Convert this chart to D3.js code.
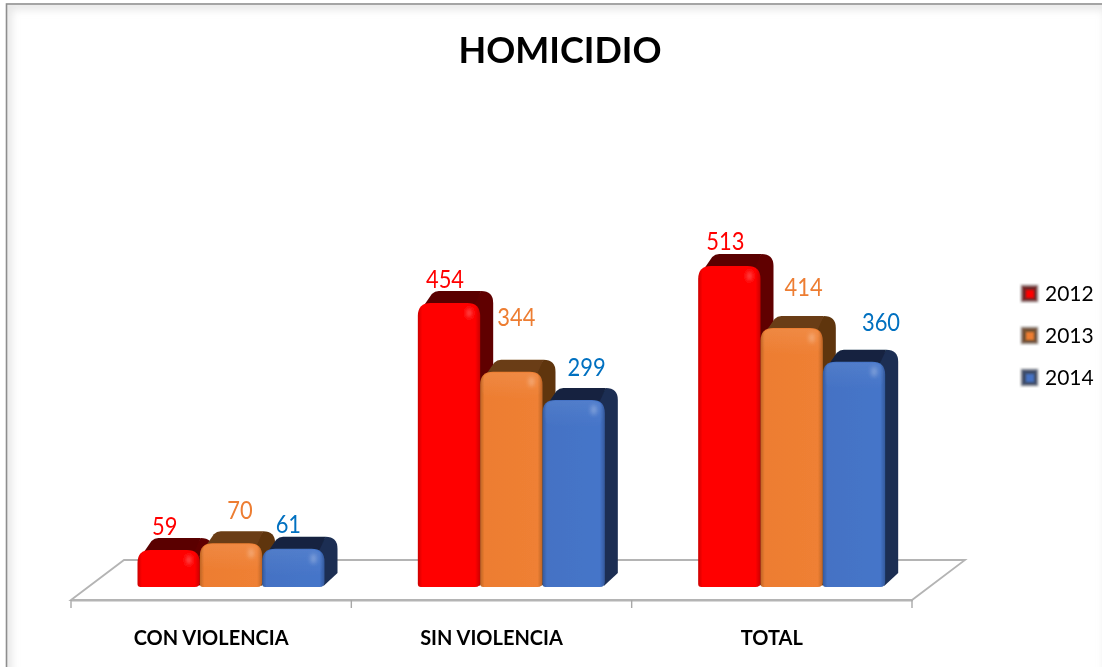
<!DOCTYPE html>
<html>
<head>
<meta charset="utf-8">
<script src="https://cdn.jsdelivr.net/npm/d3@7"></script>
<style>
  html, body { margin: 0; padding: 0; background: #fff; }
  svg { display: block; }
  text { font-family: Lato, "Open Sans", sans-serif; }
</style>
</head>
<body>
<div class="container"></div>
<script>
const categories = ['CON VIOLENCIA', 'SIN VIOLENCIA', 'TOTAL'];
const years = ['2012', '2013', '2014'];
const values2012 = [59, 454, 513];
const values2013 = [70, 344, 414];
const values2014 = [61, 299, 360];
const series = [values2012, values2013, values2014];

const colors = ['#ff0000', '#ed7d31', '#4472c4'];
const edgeColors = ['#cc0000', '#bd6526', '#34599c'];
const lightColors = ['#ff0000', '#ef8034', '#4575c9'];
const topColors = ['#5a0000', '#6b3d16', '#14233f'];
const sideColors = ['#600000', '#5f3510', '#1b2d52'];
const labelColors = ['#ff0000', '#ed7d31', '#0070c0'];
const bevelOpacity = [0, 0.6, 0.5];

// hand placed label nudges, the original chart had them dragged around
const labelDx = [[-4, 9, -5], [-4, 5, 13], [-4, 12, 27]];
const labelDy = [[-15, -24, -16], [-15, -46, -24], [-16, -32, -31]];

const width = 1102;
const height = 667;
const baseY = 587;
const depthX = 13;
const depthY = 12;
const digitWidth = 12.7;

const svg = d3
  .select('.container')
  .append('svg')
  .attr('width', width)
  .attr('height', height);

const defs = svg.append('defs');
defs.append('filter').attr('id', 'soft').append('feGaussianBlur').attr('stdDeviation', 0.5);
defs.append('filter').attr('id', 'blur3').append('feGaussianBlur').attr('stdDeviation', 4);
defs.append('filter').attr('id', 'blur2')
  .attr('x', '-100%').attr('y', '-100%').attr('width', '300%').attr('height', '300%')
  .append('feGaussianBlur').attr('stdDeviation', 2);
defs.append('filter').attr('id', 'swatchBlur').append('feGaussianBlur').attr('stdDeviation', 0.9);
defs.append('clipPath').attr('id', 'frameClip')
  .append('rect').attr('x', 7).attr('y', 5).attr('width', width).attr('height', height);

years.forEach((year, i) => {
  const g = defs.append('linearGradient').attr('id', 'front' + i);
  g.append('stop').attr('offset', '0%').attr('stop-color', edgeColors[i]);
  g.append('stop').attr('offset', '7%').attr('stop-color', colors[i]);
  g.append('stop').attr('offset', '92%').attr('stop-color', lightColors[i]);
  g.append('stop').attr('offset', '100%').attr('stop-color', edgeColors[i]);
});
const bevel = defs.append('linearGradient').attr('id', 'bevel').attr('x2', 0).attr('y2', 1);
bevel.append('stop').attr('offset', '0%').attr('stop-color', '#fff').attr('stop-opacity', 0.14);
bevel.append('stop').attr('offset', '100%').attr('stop-color', '#fff').attr('stop-opacity', 0);

// frame
const frame = svg.append('g');
frame.append('rect')
  .attr('x', 6).attr('y', 4).attr('width', width + 20).attr('height', height + 20)
  .attr('fill', '#fff');
frame.append('rect')
  .attr('x', 7).attr('y', 5).attr('width', width).attr('height', height + 20)
  .attr('fill', 'none').attr('stroke', '#e2e2e2').attr('stroke-width', 8)
  .attr('filter', 'url(#blur3)').attr('clip-path', 'url(#frameClip)');
frame.append('rect')
  .attr('x', 6.5).attr('y', 4).attr('width', width + 20).attr('height', height + 20)
  .attr('fill', 'none').attr('stroke', '#8e8e8e').attr('stroke-width', 1.6);

const xScale = d3
  .scaleBand()
  .domain(categories)
  .range([71, 912])
  .paddingInner(0)
  .paddingOuter(0);

const x1Scale = d3
  .scaleBand()
  .domain(years)
  .range([66.5, 253.5]);

const yScale = d3.scaleLinear().domain([0, 513]).range([baseY, 266]);

const chart = svg.append('g').attr('filter', 'url(#soft)');

// floor
const floorLeft = xScale.range()[0];
const floorRight = xScale.range()[1];
const floorY = 600;
const floorDx = 53;
const floorDy = 40;
chart.append('path')
  .attr('d', `M${floorLeft},${floorY}L${floorLeft + floorDx},${floorY - floorDy}L${floorRight + floorDx},${floorY - floorDy}L${floorRight},${floorY}Z`)
  .attr('fill', '#fff')
  .attr('stroke', '#b4b4b4')
  .attr('stroke-width', 1.8);

let xAxis = d3.axisBottom(xScale).tickSize(0).tickPadding(0);
const axisG = chart.append('g')
  .attr('id', 'x-axis')
  .attr('transform', 'translate(0,' + floorY + ')')
  .call(xAxis);
axisG.select('.domain').attr('stroke', '#b4b4b4').attr('stroke-width', 1.8);
axisG.selectAll('text')
  .attr('y', 45)
  .attr('dy', 0)
  .attr('fill', '#000')
  .style('font-size', '20px')
  .style('font-weight', 700)
  .style('font-family', 'Lato, sans-serif');

const edges = categories.map((c) => xScale(c)).concat([floorRight]);
chart.append('g')
  .selectAll('line')
  .data(edges)
  .enter()
  .append('line')
  .attr('x1', (d) => d)
  .attr('x2', (d) => d)
  .attr('y1', floorY)
  .attr('y2', floorY + 8)
  .attr('stroke', '#a8a8a8')
  .attr('stroke-width', 1.4);

// bars
function frontPath(x0, x1, top, bottom) {
  const r = Math.min(13, (bottom - top) / 2);
  const p = d3.path();
  p.moveTo(x0, bottom - 3);
  p.lineTo(x0, top + r);
  p.quadraticCurveTo(x0, top, x0 + r, top);
  p.lineTo(x1 - r, top);
  p.quadraticCurveTo(x1, top, x1, top + r);
  p.lineTo(x1, bottom - 5);
  p.quadraticCurveTo(x1, bottom, x1 - 5, bottom);
  p.lineTo(x0 + 3, bottom);
  p.quadraticCurveTo(x0, bottom, x0, bottom - 3);
  p.closePath();
  return p.toString();
}

function sidePath(x1, top, bottom) {
  const p = d3.path();
  p.moveTo(x1 - 10, top + 3);
  p.lineTo(x1 + depthX - 12, top - depthY);
  p.quadraticCurveTo(x1 + depthX, top - depthY, x1 + depthX, top - depthY + 12);
  p.lineTo(x1 + depthX, bottom - depthY - 2);
  p.lineTo(x1 - 1, bottom - 1);
  p.closePath();
  return p.toString();
}

function topPath(x0, x1, top) {
  const p = d3.path();
  p.moveTo(x0 + 3, top + 7);
  p.lineTo(x0 + 14, top - depthY + 3);
  p.quadraticCurveTo(x0 + 17, top - depthY, x0 + 21, top - depthY);
  p.lineTo(x1 + depthX - 12, top - depthY);
  p.lineTo(x1 - 6, top + 3);
  p.closePath();
  return p.toString();
}

const groups = chart.selectAll('.bar-group')
  .data(categories)
  .enter()
  .append('g')
  .attr('class', 'bar-group')
  .attr('transform', (d) => 'translate(' + xScale(d) + ',0)');

groups.each(function (cat, c) {
  const group = d3.select(this);
  series.forEach((vals, s) => {
    const x0 = x1Scale(years[s]);
    const x1 = x0 + x1Scale.bandwidth();
    const top = yScale(vals[c]);
    group.append('path').attr('d', sidePath(x1, top, baseY)).attr('fill', sideColors[s]);
    group.append('path').attr('d', topPath(x0, x1, top)).attr('fill', topColors[s]);
    group.append('path').attr('d', frontPath(x0, x1, top, baseY)).attr('fill', 'url(#front' + s + ')');
    // lighter band along the top of the front face
    group.append('rect')
      .attr('x', x0 + 2)
      .attr('y', top + 1)
      .attr('width', x1 - x0 - 4)
      .attr('height', Math.min(26, baseY - top - 3))
      .attr('rx', 9)
      .attr('fill', 'url(#bevel)')
      .attr('opacity', bevelOpacity[s]);
    // little shine in the upper right corner of each bar
    group.append('ellipse')
      .attr('cx', x1 - 11)
      .attr('cy', top + 10)
      .attr('rx', 3)
      .attr('ry', 5)
      .attr('fill', '#fff')
      .attr('opacity', 0.28)
      .attr('filter', 'url(#blur2)');
  });
});

// data labels
const labels = svg.append('g').attr('filter', 'url(#soft)');
categories.forEach((cat, c) => {
  series.forEach((vals, s) => {
    const label = String(vals[c]);
    labels.append('text')
      .attr('x', xScale(cat) + x1Scale(years[s]) + x1Scale.bandwidth() / 2 + labelDx[c][s])
      .attr('y', yScale(vals[c]) + labelDy[c][s])
      .attr('text-anchor', 'middle')
      .attr('fill', labelColors[s])
      .attr('textLength', label.length * digitWidth)
      .attr('lengthAdjust', 'spacingAndGlyphs')
      .style('font-size', '25px')
      .text(label);
  });
});

// title
svg.append('text')
  .attr('x', 560)
  .attr('y', 63)
  .attr('text-anchor', 'middle')
  .attr('fill', '#000')
  .attr('filter', 'url(#soft)')
  .style('font-size', '36px')
  .style('font-weight', 700)
  .text('HOMICIDIO');

// legend
const legendY = d3.scalePoint().domain(years).range([285, 369]);
const legend = svg.append('g');
years.forEach((year, i) => {
  const y = legendY(year);
  legend.append('rect')
    .attr('x', 1021).attr('y', y).attr('width', 17).attr('height', 17)
    .attr('fill', sideColors[i]).attr('opacity', 0.85)
    .attr('stroke', '#bbb').attr('stroke-width', 1)
    .attr('filter', 'url(#swatchBlur)');
  legend.append('rect')
    .attr('x', 1026).attr('y', y + 5).attr('width', 8).attr('height', 8)
    .attr('fill', colors[i])
    .attr('filter', 'url(#swatchBlur)');
  legend.append('text')
    .attr('x', 1045)
    .attr('y', y + 16)
    .attr('fill', '#000')
    .attr('filter', 'url(#soft)')
    .style('font-size', '21px')
    .text(year);
});
</script>
</body>
</html>
